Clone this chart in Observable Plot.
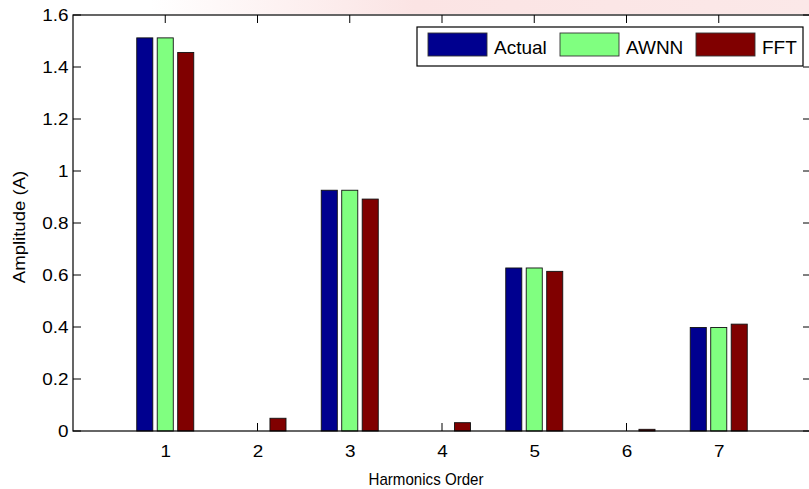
<!DOCTYPE html>
<html>
<head>
<meta charset="utf-8">
<script src="https://cdn.jsdelivr.net/npm/d3@7"></script>
<script src="https://cdn.jsdelivr.net/npm/@observablehq/plot@0.6"></script>
<style>
  html, body { margin: 0; padding: 0; background: #fff; }
  #chart { position: relative; width: 809px; height: 489px; overflow: hidden; }
  svg { font-family: "Liberation Sans", Arial, sans-serif; }
</style>
</head>
<body>
<div id="chart"></div>
<script>
// ---- data ----
const orders = [1, 2, 3, 4, 5, 6, 7];
const actual = [1.512, 0, 0.926, 0, 0.627, 0, 0.398];
const awnn   = [1.512, 0, 0.926, 0, 0.627, 0, 0.398];
const fft    = [1.456, 0.049, 0.892, 0.032, 0.614, 0.0065, 0.411];
const seriesNames = ["Actual", "AWNN", "FFT"];
const seriesColors = ["#00008f", "#80ff80", "#800000"];
const xTicks = [1, 2, 3, 4, 5, 6, 7];
const yTicks = [0, 0.2, 0.4, 0.6, 0.8, 1, 1.2, 1.4, 1.6];
const xLabel = "Harmonics Order";
const yLabel = "Amplitude (A)";

// ---- table ----
const seriesValues = [actual, awnn, fft];
const rows = [];
seriesNames.forEach((name, s) => {
  orders.forEach((o, i) => rows.push({order: o, series: name, k: s - 1, value: seriesValues[s][i]}));
});
const gap = 0.222, half = 0.087;

const chart = Plot.plot({
  width: 809, height: 489,
  marginLeft: 73, marginRight: 0, marginTop: 15, marginBottom: 58,
  style: {fontFamily: "Liberation Sans, Arial, sans-serif", background: "transparent"},
  x: {domain: [0, 8], range: [73, 811], axis: null},
  y: {domain: [0, 1.6], axis: null},
  color: {domain: seriesNames, range: seriesColors},
  marks: [
    Plot.rectY(rows, {
      x1: d => d.order + d.k * gap - half,
      x2: d => d.order + d.k * gap + half,
      y1: 0, y2: "value",
      fill: "series", stroke: "#111", strokeWidth: 0.9
    }),
    Plot.axisX(xTicks, {anchor: "bottom", tickSize: 0, tickPadding: 14, fontSize: 16, fill: "#000", label: null}),
    Plot.axisY(yTicks, {anchor: "left", tickSize: 0, tickPadding: 5, fontSize: 16, fill: "#000", label: null, tickFormat: d => String(d)})
  ]
});
document.getElementById("chart").appendChild(chart);

// ---- decorations drawn with the chart's own scales ----
const sx = chart.scale("x"), sy = chart.scale("y");
const svg = d3.select(chart);
const X = v => sx.apply(v), Y = v => sy.apply(v);
const x0 = X(0), x1 = X(8), y0 = Y(0), y1 = Y(1.6);

// match the original renderer's glyph proportions
function stretch(sel, f) {
  sel.each(function () {
    const L = this.getComputedTextLength();
    this.setAttribute("textLength", (L * f).toFixed(1));
    this.setAttribute("lengthAdjust", "spacingAndGlyphs");
  });
}
stretch(svg.selectAll("g[aria-label='x-axis tick label'] text, g[aria-label='y-axis tick label'] text"), 1.18);

// faint watermark band at the top
const defs = svg.insert("defs", ":first-child");
const grad = defs.append("linearGradient").attr("id", "wm").attr("x1", "0").attr("x2", "1").attr("y1", "0").attr("y2", "0");
grad.append("stop").attr("offset", "0").attr("stop-color", "#fbe4e4").attr("stop-opacity", 0);
grad.append("stop").attr("offset", "0.4").attr("stop-color", "#fbe4e4").attr("stop-opacity", 1);
grad.append("stop").attr("offset", "1").attr("stop-color", "#fbe8e8").attr("stop-opacity", 1);
svg.insert("rect", "defs + *").attr("x", 150).attr("y", 0).attr("width", 660).attr("height", y1 - 1)
  .attr("fill", "url(#wm)");

// ticks drawn behind bars
const tickG = svg.insert("g", "g[aria-label='rect']").attr("stroke", "#000").attr("stroke-width", 1);
const tl = 8;
xTicks.forEach(t => {
  tickG.append("line").attr("x1", X(t)).attr("x2", X(t)).attr("y1", y0).attr("y2", y0 - tl);
  tickG.append("line").attr("x1", X(t)).attr("x2", X(t)).attr("y1", y1).attr("y2", y1 + tl);
});
yTicks.forEach(t => {
  tickG.append("line").attr("x1", x0).attr("x2", x0 + tl).attr("y1", Y(t)).attr("y2", Y(t));
  tickG.append("line").attr("x1", x1).attr("x2", x1 - tl).attr("y1", Y(t)).attr("y2", Y(t));
});

// frame
svg.append("rect").attr("x", x0).attr("y", y1).attr("width", x1 - x0).attr("height", y0 - y1)
  .attr("fill", "none").attr("stroke", "#000").attr("stroke-width", 1.2);

// axis titles
const xl = svg.append("text").attr("x", 426).attr("y", 485).attr("text-anchor", "middle")
  .attr("font-size", 17).attr("fill", "#000").text(xLabel);
xl.attr("textLength", 115).attr("lengthAdjust", "spacingAndGlyphs");
const yl = svg.append("text").attr("transform", `translate(25,${(y0 + y1) / 2 + 4}) rotate(-90)`)
  .attr("text-anchor", "middle").attr("font-size", 16).attr("fill", "#000").text(yLabel);
stretch(yl, 1.16);

// legend
const lg = svg.append("g").attr("text-anchor", "start");
lg.append("rect").attr("x", 417).attr("y", 27).attr("width", 386).attr("height", 39)
  .attr("fill", "#fff").attr("stroke", "#000").attr("stroke-width", 1.2);
const swX = [428, 560, 696];
seriesNames.forEach((name, i) => {
  lg.append("rect").attr("x", swX[i]).attr("y", 33).attr("width", 59).attr("height", 23)
    .attr("fill", seriesColors[i]).attr("stroke", "#333").attr("stroke-width", 0.9);
  const t = lg.append("text").attr("x", swX[i] + 66).attr("y", 54).attr("font-size", 19).attr("fill", "#000").text(name);
});
</script>
</body>
</html>
